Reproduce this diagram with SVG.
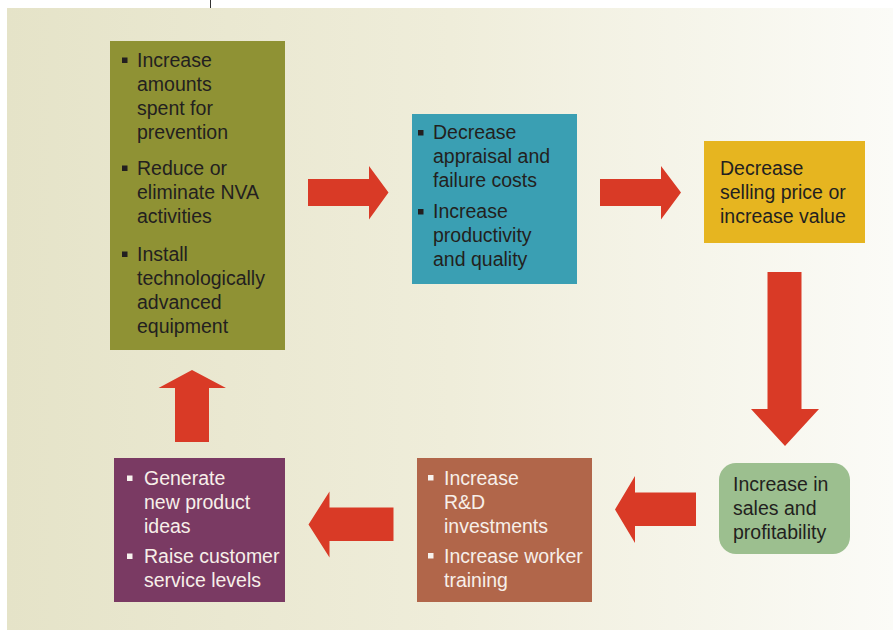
<svg xmlns="http://www.w3.org/2000/svg" width="893" height="632" viewBox="0 0 893 632">
<defs>
<linearGradient id="bg" x1="0" y1="0" x2="1" y2="0">
<stop offset="0" stop-color="#e5e3c8"/>
<stop offset="0.5" stop-color="#efedda"/>
<stop offset="1" stop-color="#fbfbf7"/>
</linearGradient>
</defs>
<style>
text{font-family:"Liberation Sans",Arial,sans-serif;font-size:19.5px;fill:#231f20}
.lt{fill:#f7efe9}
.b{fill:#231f20}
.bw{fill:#f7f2ee}
.arr{fill:#d93a26}
</style>
<rect x="7" y="8" width="886" height="622" fill="url(#bg)"/>
<line x1="210.5" y1="0" x2="210.5" y2="8" stroke="#333" stroke-width="1"/>

<g id="connectors">
<polygon class="arr" points="308,179 369,179 369,166 388.5,192.5 369,219.5 369,206 308,206"/>
<polygon class="arr" points="600,179 661,179 661,166 681,192.5 661,219.5 661,206 600,206"/>
<polygon class="arr" points="767.5,272 801.5,272 801.5,409 819,409 785,446 751,409 767.5,409"/>
<polygon class="arr" points="696,492.5 635,492.5 635,476 615,509.5 635,543 635,526 696,526"/>
<polygon class="arr" points="393.5,507.5 329.5,507.5 329.5,491.5 308.5,524.5 329.5,557.5 329.5,541 393.5,541"/>
<polygon class="arr" points="175,442 209,442 209,388 226,388 192,370 158.5,388 175,388"/>
</g>

<g id="node-prevention">
<rect x="110" y="41" width="175" height="309" fill="#8f9234"/>
<rect class="b" x="122" y="57.5" width="5.5" height="5.5"/>
<rect class="b" x="122" y="165.5" width="5.5" height="5.5"/>
<rect class="b" x="122" y="251.5" width="5.5" height="5.5"/>
<text x="137" y="67">Increase</text>
<text x="137" y="91">amounts</text>
<text x="137" y="115">spent for</text>
<text x="137" y="139">prevention</text>
<text x="137" y="175">Reduce or</text>
<text x="137" y="199">eliminate NVA</text>
<text x="137" y="223">activities</text>
<text x="137" y="261">Install</text>
<text x="137" y="285">technologically</text>
<text x="137" y="309">advanced</text>
<text x="137" y="333">equipment</text>
</g>

<g id="node-costs">
<rect x="412" y="114" width="165" height="170" fill="#3a9fb3"/>
<rect class="b" x="418" y="130" width="5.5" height="5.5"/>
<rect class="b" x="418" y="209" width="5.5" height="5.5"/>
<text x="433" y="139">Decrease</text>
<text x="433" y="163">appraisal and</text>
<text x="433" y="187">failure costs</text>
<text x="433" y="218">Increase</text>
<text x="433" y="242">productivity</text>
<text x="433" y="266">and quality</text>
</g>

<g id="node-price">
<rect x="704" y="141" width="161" height="102" fill="#e6b520"/>
<text x="720" y="175">Decrease</text>
<text x="720" y="199">selling price or</text>
<text x="720" y="223">increase value</text>
</g>

<g id="node-sales">
<rect x="719" y="463" width="131" height="91" rx="17" ry="17" fill="#9cbf8f"/>
<text x="733" y="491">Increase in</text>
<text x="733" y="515">sales and</text>
<text x="733" y="539">profitability</text>
</g>

<g id="node-invest">
<rect x="417" y="458" width="175" height="144" fill="#b1664a"/>
<rect class="bw" x="428" y="475" width="5.5" height="5.5"/>
<rect class="bw" x="428" y="553" width="5.5" height="5.5"/>
<text class="lt" x="444" y="485">Increase</text>
<text class="lt" x="444" y="509">R&amp;D</text>
<text class="lt" x="444" y="533">investments</text>
<text class="lt" x="444" y="563">Increase worker</text>
<text class="lt" x="444" y="587">training</text>
</g>

<g id="node-ideas">
<rect x="114" y="458" width="171" height="144" fill="#7a3a63"/>
<rect class="bw" x="127" y="475.5" width="5.5" height="5.5"/>
<rect class="bw" x="127" y="553.5" width="5.5" height="5.5"/>
<text class="lt" x="144" y="485">Generate</text>
<text class="lt" x="144" y="509">new product</text>
<text class="lt" x="144" y="533">ideas</text>
<text class="lt" x="144" y="563">Raise customer</text>
<text class="lt" x="144" y="587">service levels</text>
</g>
</svg>
